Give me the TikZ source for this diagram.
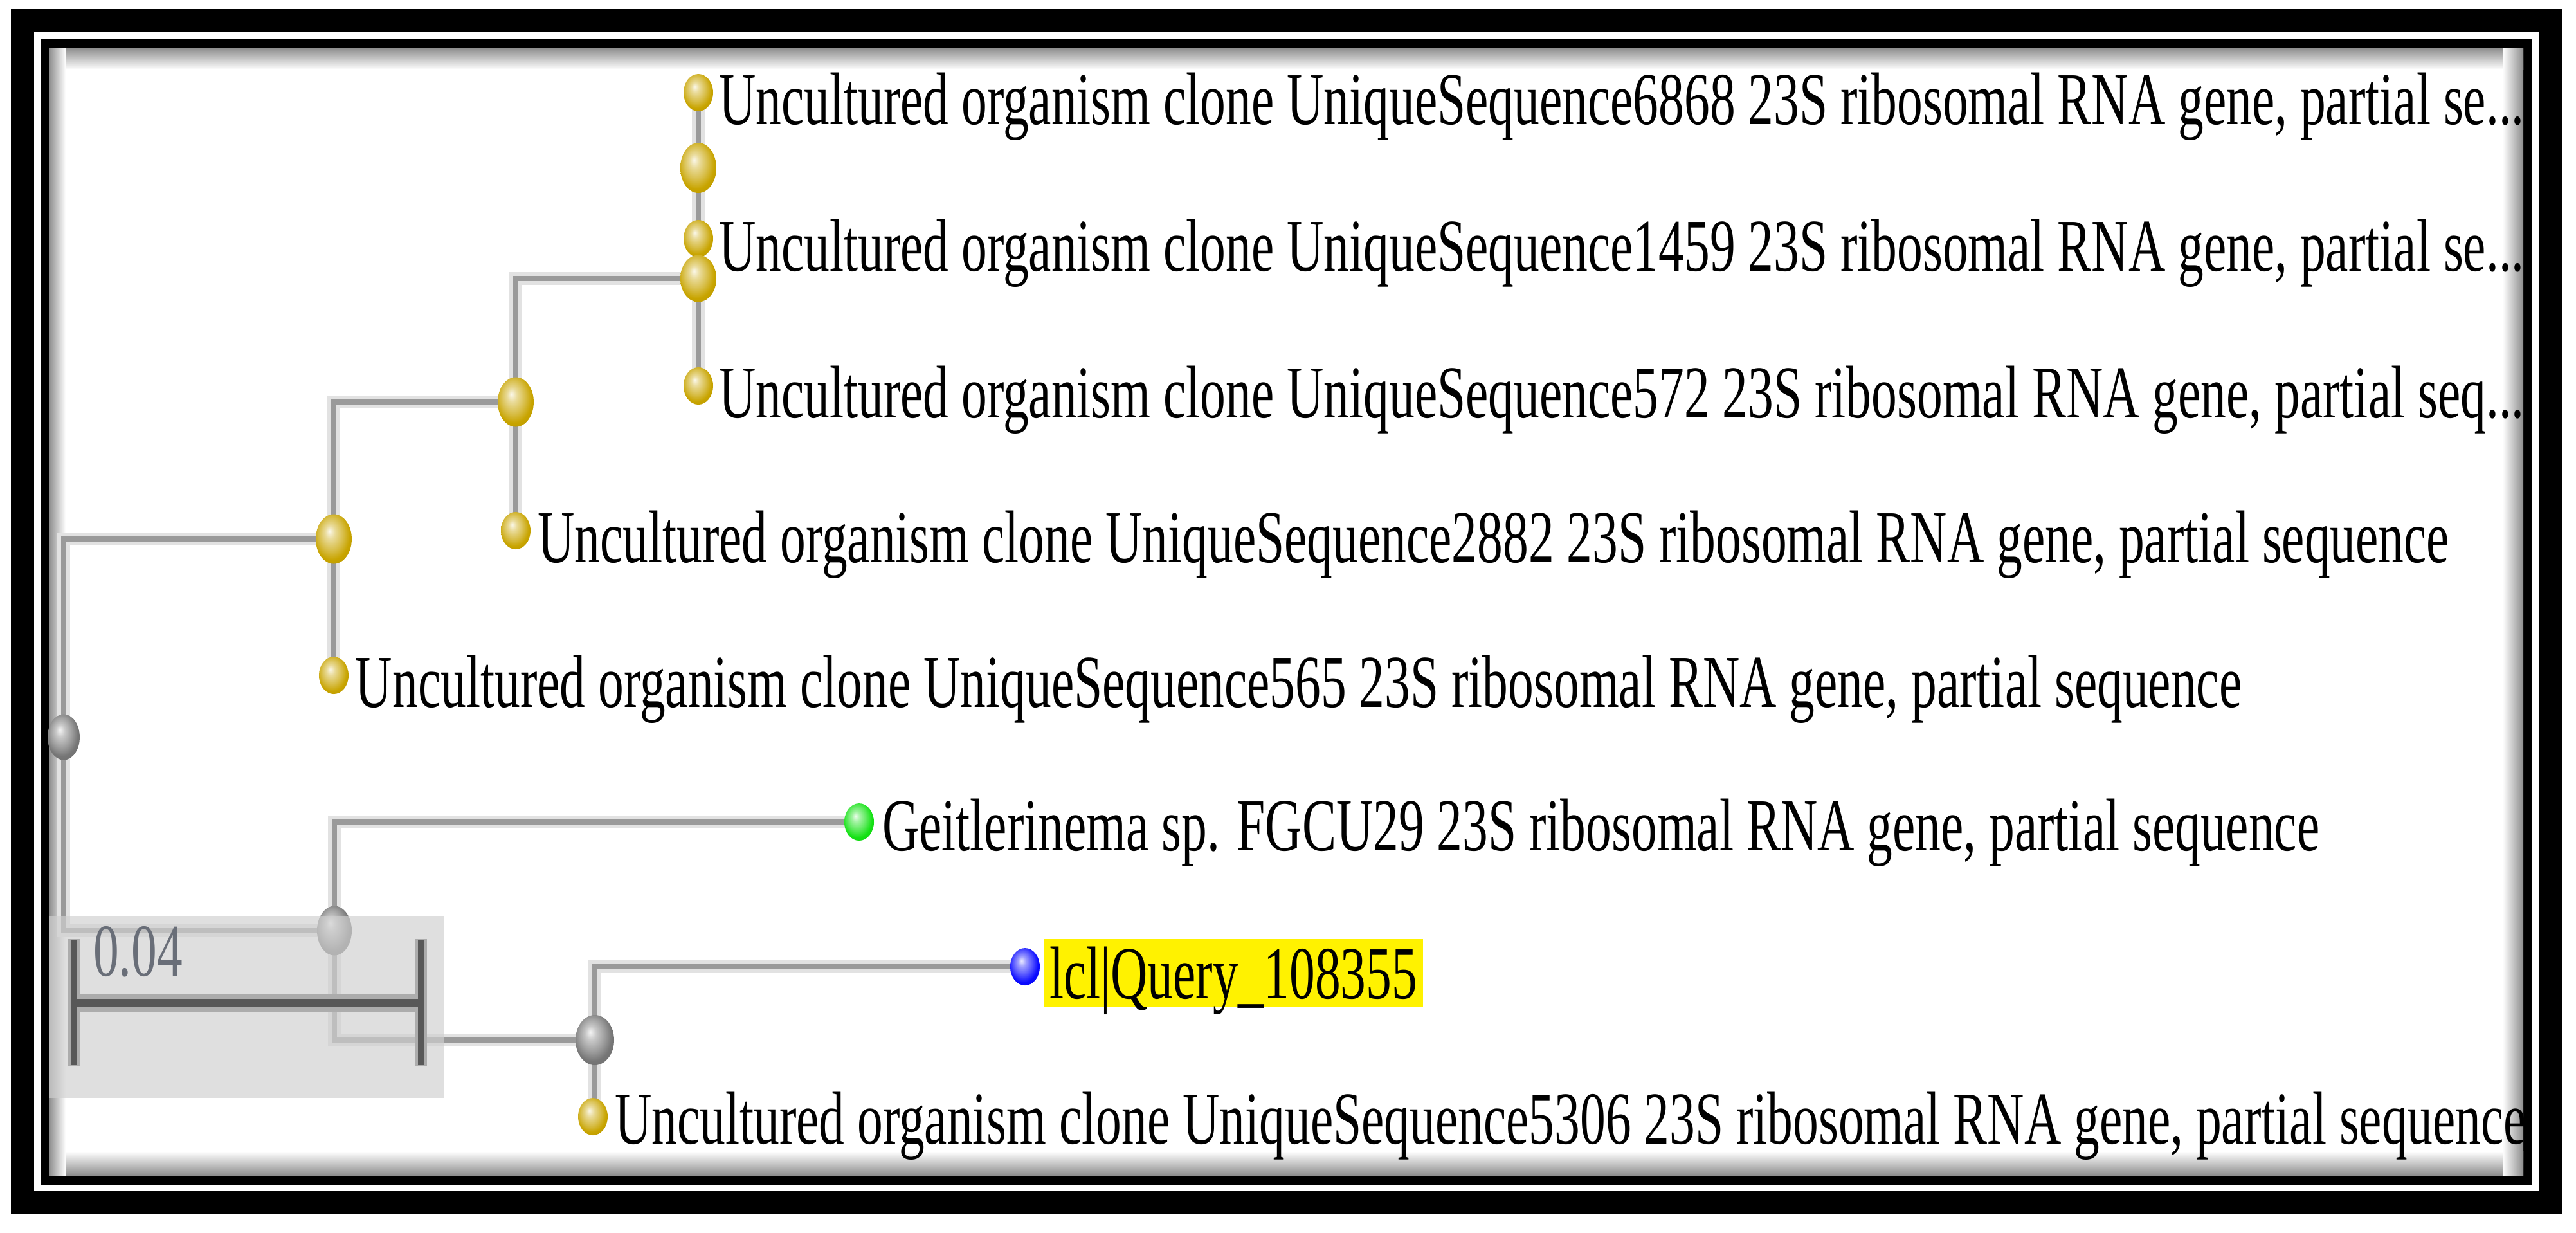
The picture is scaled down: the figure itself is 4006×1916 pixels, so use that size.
\documentclass[tikz,border=0pt]{standalone}
\usepackage{fontspec}
\newfontfamily\lblfont[FakeStretch=0.685]{Liberation Serif}
\usetikzlibrary{shapes.geometric}
\pgfdeclarelayer{back}
\pgfdeclarelayer{lines}
\pgfdeclarelayer{front}
\pgfsetlayers{back,lines,main,front}
\definecolor{goldn}{RGB}{200,164,0}
\definecolor{grayn}{RGB}{118,118,118}
\definecolor{greenn}{RGB}{20,225,20}
\definecolor{bluen}{RGB}{10,10,255}
\definecolor{branchcol}{RGB}{154,154,154}
\definecolor{halocol}{RGB}{226,226,226}
\definecolor{barcol}{RGB}{88,88,88}
\definecolor{barhalocol}{RGB}{172,172,172}
\definecolor{boxcol}{RGB}{208,208,208}
\definecolor{scalelbl}{RGB}{105,110,120}
\definecolor{shadowcol}{RGB}{140,140,140}
\colorlet{nodecol}{goldn}
\pgfdeclareradialshading[nodecol]{nodeball}{\pgfpoint{-6bp}{8bp}}{%
  color(0bp)=(nodecol!8!white); color(7bp)=(nodecol!40!white);
  color(17bp)=(nodecol!72!white); color(25bp)=(nodecol);
  color(50bp)=(nodecol!80!black)}
\begin{document}
\begin{tikzpicture}[x=0.1pt,y=-0.1pt,
  nodecolor/.code={\colorlet{nodecol}{#1}},
  tnode/.style={ellipse, inner sep=0pt, shade, shading=nodeball, nodecolor=#1},
  leaf/.style={tnode=#1, minimum width=4.6pt, minimum height=5.8pt},
  innode/.style={tnode=#1, minimum width=5.6pt, minimum height=7.7pt},
  branchhalo/.style={draw=halocol, line width=2.0pt},
  branchmain/.style={draw=branchcol, line width=0.8pt},
  barhalo/.style={draw=barhalocol, line width=#1},
  scalebar/.style={draw=barcol, line width=#1},
  lbl/.style={anchor=base west, inner sep=0pt, font=\lblfont\fontsize{11.6}{14}\selectfont}]
\useasboundingbox (0,0) rectangle (4006,1916);
\begin{pgfonlayer}{back}
  \fill[white] (0,0) rectangle (4006,1916);
  \fill[black] (17,14) rectangle (3984,1888);
  \fill[white] (53,50) rectangle (3948,1852);
  \fill[black] (63,61) rectangle (3938,1842);
  \fill[white] (76,74) rectangle (3924,1828);
  \shade[top color=shadowcol, bottom color=white] (76,74) rectangle (3924,108);
  \shade[top color=white, bottom color=shadowcol] (76,1790) rectangle (3924,1828);
  \shade[left color=shadowcol, right color=white] (76,74) rectangle (102,1828);
  \shade[left color=white, right color=shadowcol] (3892,74) rectangle (3924,1828);
\end{pgfonlayer}

% leaves
\node[leaf=goldn] (L6868) at (1086,144) {};
\node[leaf=goldn] (L1459) at (1086,371) {};
\node[leaf=goldn] (L572) at (1086,600) {};
\node[leaf=goldn] (L2882) at (802,825) {};
\node[leaf=goldn] (L565) at (519,1050) {};
\node[leaf=greenn] (LGeit) at (1336,1278) {};
\node[leaf=bluen] (LQuery) at (1594,1503) {};
\node[leaf=goldn] (L5306) at (922,1736) {};
% internal nodes
\node[innode=goldn, minimum height=7.8pt] (N1) at (1086,261) {};
\node[innode=goldn, minimum height=7.3pt] (N2) at (1086,433) {};
\node[innode=goldn] (N3) at (802,625) {};
\node[innode=goldn] (N4) at (519,838) {};
\node[innode=grayn, minimum width=5.0pt, minimum height=7.1pt] (R) at (99,1146) {};
\node[innode=grayn, minimum width=5.4pt, minimum height=7.7pt] (G1) at (520,1447) {};
\node[innode=grayn, minimum width=6.0pt, minimum height=7.8pt] (G2) at (925,1617) {};

\begin{pgfonlayer}{lines}
  \foreach \p/\c in {N1/L6868,N1/L1459,N2/N1,N2/L572,N3/N2,N3/L2882,N4/N3,N4/L565,R/N4,R/G1,G1/LGeit,G1/G2,G2/LQuery,G2/L5306}
    \draw[branchhalo] (\p.center) |- (\c.center);
  \foreach \p/\c in {N1/L6868,N1/L1459,N2/N1,N2/L572,N3/N2,N3/L2882,N4/N3,N4/L565,R/N4,R/G1,G1/LGeit,G1/G2,G2/LQuery,G2/L5306}
    \draw[branchmain] (\p.center) |- (\c.center);
\end{pgfonlayer}

\begin{scope}
  \clip (76,74) rectangle (3924,1828);
  \node[lbl] (T6868) at (1116,193) {Uncultured organism clone UniqueSequence6868 23S ribosomal RNA gene, partial se...};
  \node[lbl] (T1459) at (1116,421) {Uncultured organism clone UniqueSequence1459 23S ribosomal RNA gene, partial se...};
  \node[lbl] (T572) at (1116,649) {Uncultured organism clone UniqueSequence572 23S ribosomal RNA gene, partial seq...};
  \node[lbl] (T2882) at (834,874) {Uncultured organism clone UniqueSequence2882 23S ribosomal RNA gene, partial sequence};
  \node[lbl] (T565) at (551,1099) {Uncultured organism clone UniqueSequence565 23S ribosomal RNA gene, partial sequence};
  \node[lbl] (TGeit) at (1370,1322) {Geitlerinema sp. FGCU29 23S ribosomal RNA gene, partial sequence};
  \node[lbl, fill=yellow, text height=9.2pt, text depth=1.4pt, inner xsep=0.9pt] (TQuery) at (1621,1552) {lcl|Query\_108355};
  \node[lbl] (T5306) at (954,1778) {Uncultured organism clone UniqueSequence5306 23S ribosomal RNA gene, partial sequence};
\end{scope}

\begin{pgfonlayer}{front}
  \fill[boxcol, fill opacity=0.68] (76,1424) rectangle (691,1707);
  \coordinate (SBL) at (115,1559);
  \coordinate (SBR) at (655,1559);
  \draw[barhalo=2.8pt] (SBL) -- (SBR);
  \draw[barhalo=1.8pt] (115,1460) -- (115,1658);
  \draw[barhalo=1.8pt] (655,1460) -- (655,1658);
  \draw[scalebar=1.3pt] (SBL) -- (SBR);
  \draw[scalebar=1.0pt] (115,1462) -- (115,1656);
  \draw[scalebar=1.0pt] (655,1462) -- (655,1656);
  \node[lbl, text=scalelbl] (SLBL) at (143,1517) {0.04};
\end{pgfonlayer}
\end{tikzpicture}
\end{document}
